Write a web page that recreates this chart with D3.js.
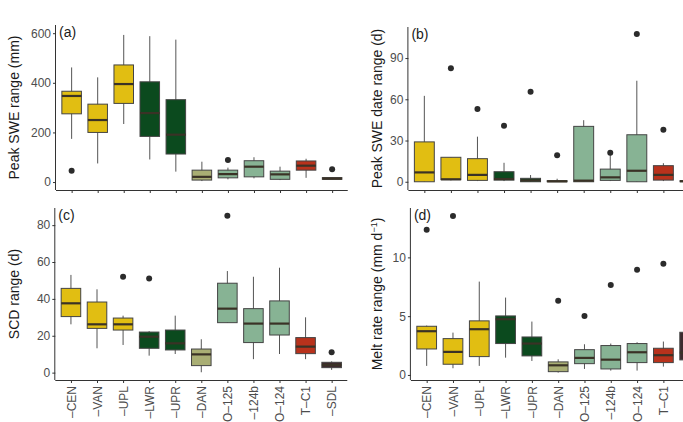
<!DOCTYPE html>
<head>
    <meta charset="utf-8">
    <title>Snow range boxplots</title>
    <script type="text/javascript" src="https://d3js.org/d3.v7.min.js"></script>
    <style>
        body { margin: 0; background: #fff; }
        svg { font-family: "Liberation Sans", Arial, sans-serif; }
        .axis path, .axis line { stroke: #333; stroke-width: 1; }
        .axis text { fill: #4d4d4d; font-size: 11px; }
    </style>
</head>
<body>
<div id="container"></div>

<script>
    //------------------------1. DATA------------------------//
    const sites = ["–CEN", "–VAN", "–UPL", "–LWR", "–UPR", "–DAN", "O–125", "–124b", "O–124", "T–C1", "–SDL"];
    const siteColors = ["#e1be12", "#e1be12", "#e1be12", "#0b4a1e", "#0b4a1e", "#a9ae74",
                        "#87b394", "#87b394", "#87b394", "#b8321c", "#3e2a2e"];

    // [lower whisker, q1, median, q3, upper whisker]
    const sweRange = [
        [174, 275, 347, 366, 462], [75, 200, 250, 314, 422], [234, 317, 395, 472, 593],
        [91, 184, 278, 404, 588], [42, 113, 191, 332, 574], [4, 8, 21, 48, 82],
        [11, 17, 32, 48, 58], [15, 21, 62, 86, 100], [8, 11, 31, 44, 62],
        [17, 48, 66, 85, 94], [11, 11, 14, 18, 19]
    ];
    const sweOutliers = [[0, 46], [6, 89], [10, 52]];

    const dateRange = [
        [0, 0, 6.8, 29, 62.5], [1, 1.5, 1.8, 17.8, 17.8], [0.5, 1, 5, 16.8, 32.8],
        [0.5, 1.2, 2, 7.3, 13.8], [0, 0, 1, 2.5, 4.9], [0, 0, 0.3, 0.8, 2.2],
        [0, 0, 0.8, 40.3, 44.8], [0.5, 1, 3.2, 9.2, 19.5], [0, 0, 8, 34.2, 73.5],
        [0.5, 1.2, 5, 11.7, 13.5], [0, 0, 0.4, 0.8, 1.2]
    ];
    const dateOutliers = [[1, 82.6], [2, 53], [3, 40.8], [4, 65.5], [5, 19.2], [7, 21.1], [8, 107.5], [9, 37.9]];

    const scdRange = [
        [26.2, 30.4, 37.6, 45.7, 53], [13.2, 24, 26.2, 38.3, 45.2], [15, 23.1, 26.2, 29.6, 30.9],
        [9.2, 13.2, 19.5, 22, 22.5], [10.1, 12.3, 15.9, 23.1, 30.9], [0.2, 3.8, 9.9, 12.8, 18.1],
        [27, 27.1, 34.7, 48.5, 55.1], [7.3, 16.3, 26.6, 34.7, 52], [10.1, 20.4, 26.6, 38.9, 56.9],
        [7.3, 10.3, 14.1, 19, 30], [1.5, 2.7, 4.2, 5.6, 6.1]
    ];
    const scdOutliers = [[2, 52], [3, 51], [6, 85.1], [10, 11]];

    const meltRange = [
        [0.77, 2.21, 3.72, 4.14, 4.2], [0.57, 0.91, 1.96, 3.09, 3.6], [0.77, 1.56, 3.89, 4.6, 7.94],
        [1.47, 2.67, 4.74, 5.02, 6.58], [1.19, 1.62, 2.67, 3.23, 4.54], [0.2, 0.28, 0.82, 1.11, 1.33],
        [0.51, 0.96, 1.45, 2.15, 2.61], [0.37, 0.51, 1.3, 2.5, 2.67], [0.37, 1.05, 1.93, 2.67, 2.78],
        [0.71, 1.05, 1.68, 2.27, 2.84], [1.2, 1.28, 1.9, 3.63, 3.7]
    ];
    const meltOutliers = [[0, 12.34], [1, 13.53], [5, 6.32], [6, 5.02], [7, 7.66], [8, 8.94], [9, 9.45]];

    const sweTicks = [0, 200, 400, 600];
    const dateTicks = [0, 30, 60, 90];
    const scdTicks = [0, 20, 40, 60, 80];
    const meltTicks = [0, 5, 10];

    //------------------------2. SVG------------------------//
    const W = 683, H = 422;
    const svg = d3.select("#container").append("svg")
        .attr("width", W)
        .attr("height", H);

    //------------------------3. PANELS------------------------//
    function drawPanel(p) {
        const x = d3.scalePoint().domain(sites)
            .range([p.left, p.left + 11.2 * p.step]).padding(0.6);
        const y = d3.scaleLinear().domain(p.ydom).range([p.bottom, p.top]);
        const bw = p.step * 0.75;
        const g = svg.append("g");

        // axes
        const xaxis = d3.axisBottom(x).tickSize(3).tickPadding(3);
        if (!p.labels) xaxis.tickFormat("");
        const xg = g.append("g").attr("class", "axis")
            .attr("transform", "translate(0," + p.bottom + ")")
            .call(xaxis);
        xg.select(".domain").attr("d", "M" + p.left + ",0.5H" + (p.left + 11.2 * p.step));
        if (p.labels) {
            xg.selectAll("text")
                .attr("transform", "rotate(-90)")
                .attr("x", -6).attr("y", 0).attr("dy", "0.35em")
                .style("text-anchor", "end")
                .style("font-size", "12px");
        }
        // the figure is cropped on the right: drop ticks that fall past the edge
        xg.selectAll(".tick").filter(d => x(d) > W - 6).remove();

        const yg = g.append("g").attr("class", "axis")
            .attr("transform", "translate(" + p.left + ",0)")
            .call(d3.axisLeft(y).tickValues(p.ticks).tickSize(3).tickPadding(2));
        yg.select(".domain").attr("d", "M-0.5," + p.bottom + "V" + p.top);
        yg.selectAll("text").style("font-size", "12px");

        // boxes
        const boxes = g.selectAll(".box").data(p.data).enter().append("g");
        boxes.append("line")
            .attr("x1", (d, i) => x(sites[i])).attr("x2", (d, i) => x(sites[i]))
            .attr("y1", d => y(d[0])).attr("y2", d => y(d[4]))
            .attr("stroke", "#555").attr("stroke-width", 1);
        boxes.append("rect")
            .attr("x", (d, i) => x(sites[i]) - bw / 2)
            .attr("width", bw)
            .attr("y", d => y(d[3]))
            .attr("height", d => Math.max(1, y(d[1]) - y(d[3])))
            .attr("fill", (d, i) => siteColors[i])
            .attr("stroke", "#444").attr("stroke-width", 1);
        boxes.append("line")
            .attr("x1", (d, i) => x(sites[i]) - bw / 2).attr("x2", (d, i) => x(sites[i]) + bw / 2)
            .attr("y1", d => y(d[2])).attr("y2", d => y(d[2]))
            .attr("stroke", "#3a3226").attr("stroke-width", 2.2);

        // outliers
        g.selectAll(".out").data(p.outliers).enter().append("circle")
            .attr("cx", d => x(sites[d[0]]))
            .attr("cy", d => y(d[1]))
            .attr("r", 3)
            .attr("fill", "#2b2b2b");

        // panel letter
        g.append("text").attr("x", p.left + 3).attr("y", p.top + 12)
            .text(p.letter).style("font-size", "14px").attr("fill", "#1a1a1a");

        // axis title
        const t = g.append("text")
            .attr("transform", "translate(" + p.titleX + "," + ((p.top + p.bottom) / 2) + ") rotate(-90)")
            .style("text-anchor", "middle")
            .style("font-size", "14px")
            .attr("fill", "#1a1a1a")
            .text(p.title);
        if (p.sup) {
            t.append("tspan").attr("baseline-shift", "super").style("font-size", "9px").text(p.sup);
            t.append("tspan").text(")");
        }
    }

    drawPanel({ data: sweRange, outliers: sweOutliers, ticks: sweTicks, ydom: [-32, 633],
        left: 56, step: 26.05, top: 25, bottom: 190, letter: "(a)",
        title: "Peak SWE range (mm)", titleX: 19, labels: false });
    drawPanel({ data: dateRange, outliers: dateOutliers, ticks: dateTicks, ydom: [-6, 112.6],
        left: 408.4, step: 26.56, top: 27, bottom: 190, letter: "(b)",
        title: "Peak SWE date range (d)", titleX: 382, labels: false });
    drawPanel({ data: scdRange, outliers: scdOutliers, ticks: scdTicks, ydom: [-4, 89.3],
        left: 55.3, step: 26.07, top: 208, bottom: 380, letter: "(c)",
        title: "SCD range (d)", titleX: 19, labels: true });
    drawPanel({ data: meltRange, outliers: meltOutliers, ticks: meltTicks, ydom: [-0.43, 14.2],
        left: 410.9, step: 26.3, top: 208, bottom: 380, letter: "(d)",
        title: "Melt rate range (mm d", sup: "−1", titleX: 382, labels: true });
</script>
</body>
